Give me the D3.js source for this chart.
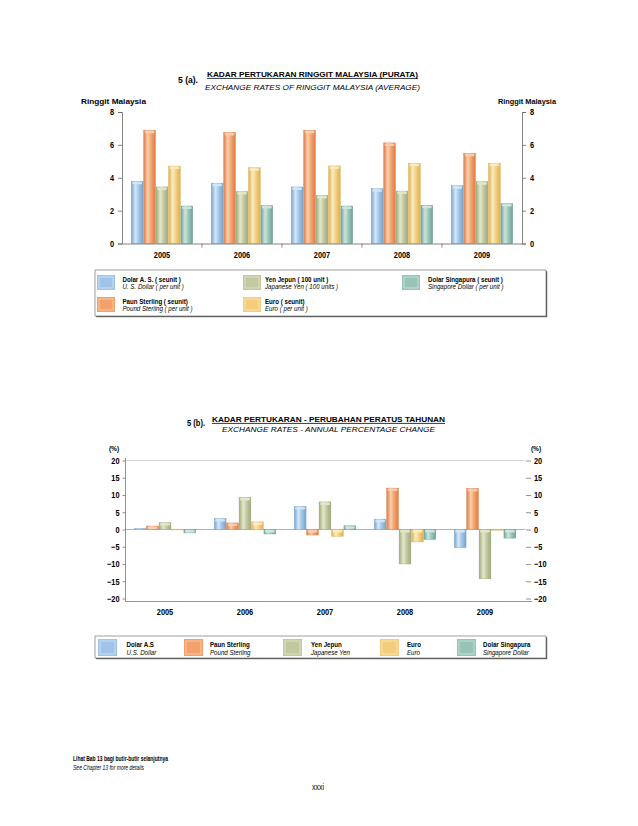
<!DOCTYPE html>
<html><head><meta charset="utf-8">
<script src="https://cdn.jsdelivr.net/npm/d3@7"></script>
<style>
html,body{margin:0;padding:0;background:#fff;}
svg{display:block;font-family:"Liberation Sans",Arial,sans-serif;}
</style></head><body>
<svg id="c" width="638" height="826"></svg>
<script>
const years = ["2005","2006","2007","2008","2009"];
const seriesKeys = ["usd","gbp","jpy","eur","sgd"];
// Chart 5(a): average exchange rates (RM)
const rateUSD = [3.79, 3.67, 3.44, 3.33, 3.52];
const rateGBP = [6.89, 6.76, 6.89, 6.12, 5.49];
const rateJPY = [3.44, 3.16, 2.92, 3.19, 3.76];
const rateEUR = [4.71, 4.61, 4.72, 4.88, 4.89];
const rateSGD = [2.28, 2.31, 2.28, 2.33, 2.43];
const rateTicks = [0, 2, 4, 6, 8];
// Chart 5(b): annual percentage change
const chgUSD = [0.3, 3.2, 6.7, 3.0, -5.3];
const chgGBP = [1.0, 1.9, -1.6, 12.0, 11.9];
const chgJPY = [2.0, 9.3, 8.0, -10.0, -14.3];
const chgEUR = [0.1, 2.2, -2.0, -3.6, -0.2];
const chgSGD = [-1.0, -1.3, 1.1, -2.9, -2.5];
const chgTicks = [20, 15, 10, 5, 0, -5, -10, -15, -20];

const legendA = [
  ["Dolar A. S. ( seunit )", "U. S. Dollar ( per unit )", "usd"],
  ["Yen Jepun ( 100 unit )", "Japanese Yen (  100 units )", "jpy"],
  ["Dolar Singapura ( seunit )", "Singapore Dollar (  per unit )", "sgd"],
  ["Paun Sterling ( seunit)", "Pound Sterling ( per unit )", "gbp"],
  ["Euro ( seunit)", "Euro ( per unit )", "eur"]
];
const legendB = [
  ["Dolar A.S", "U.S. Dollar", "usd"],
  ["Paun Sterling", "Pound Sterling", "gbp"],
  ["Yen Jepun", "Japanese Yen", "jpy"],
  ["Euro", "Euro", "eur"],
  ["Dolar Singapura", "Singapore Dollar", "sgd"]
];

const colors = {
  usd: {base:"#9fc4e8", dark:"#7aa3cc", light:"#d3e7f8"},
  gbp: {base:"#f3a06a", dark:"#dd7c45", light:"#f9d0b0"},
  jpy: {base:"#c2c8a0", dark:"#9fa77d", light:"#e4e8cb"},
  eur: {base:"#f4cd7c", dark:"#dcaf55", light:"#fbecbd"},
  sgd: {base:"#98c4b8", dark:"#70a294", light:"#cfe6df"}
};

const svg = d3.select("#c");
const defs = svg.append("defs");
seriesKeys.forEach(k => {
  const c = colors[k];
  const g = defs.append("linearGradient").attr("id","g_"+k).attr("x1","0").attr("x2","1").attr("y1","0").attr("y2","0");
  g.append("stop").attr("offset","0%").attr("stop-color",c.dark);
  g.append("stop").attr("offset","35%").attr("stop-color",c.light);
  g.append("stop").attr("offset","65%").attr("stop-color",c.base);
  g.append("stop").attr("offset","100%").attr("stop-color",c.dark);
});

const NARROW = 0.82;
function narrow(sel, f) {
  sel.each(function(){
    const w = this.getComputedTextLength();
    d3.select(this).attr("textLength", w*(f||NARROW)).attr("lengthAdjust","spacingAndGlyphs");
  });
}
function txt(x,y,s,opts={}) {
  const t = svg.append("text").attr("x",x).attr("y",y).text(s)
    .attr("font-size",opts.size||8).attr("fill","#000")
    .attr("text-anchor",opts.anchor||"start");
  if (opts.bold) t.attr("font-weight","bold");
  if (opts.italic) t.attr("font-style","italic");
  let w;
  if (opts.len) { w = opts.len; t.attr("textLength",w).attr("lengthAdjust","spacingAndGlyphs"); }
  else { w = t.node().getComputedTextLength()*NARROW; t.attr("textLength",w).attr("lengthAdjust","spacingAndGlyphs"); }
  if (opts.underline) {
    const x0 = opts.anchor==="middle" ? x-w/2 : (opts.anchor==="end" ? x-w : x);
    svg.append("line").attr("x1",x0).attr("x2",x0+w).attr("y1",y+1.4).attr("y2",y+1.4).attr("stroke","#000").attr("stroke-width",0.8);
  }
  return t;
}

function drawBar(g, x, w, y0, y1, key) {
  const top = Math.min(y0,y1), h = Math.max(0.8, Math.abs(y1-y0));
  g.append("rect").attr("x",x).attr("y",top).attr("width",w).attr("height",h)
    .attr("fill","url(#g_"+key+")").attr("stroke",colors[key].dark).attr("stroke-width",0.4);
  if (h > 3) {
    g.append("rect").attr("x",x+1).attr("y",top+0.5).attr("width",w-2).attr("height",Math.min(2.5,h-1))
      .attr("rx",1.2).attr("fill",colors[key].light).attr("opacity",0.95);
  }
}
function styleAxis(a, col){
  a.selectAll("path").attr("stroke",col).attr("stroke-width",0.8);
  a.selectAll("line").attr("stroke",col).attr("stroke-width",0.8);
  a.selectAll("text").attr("font-size",9).attr("font-weight","bold").attr("font-family",null).attr("fill","#000");
  narrow(a.selectAll("text"));
}

// ===== Chart A =====
txt(198,83,"5 (a).",{bold:true,anchor:"end",size:8.5,len:20});
txt(207,77,"KADAR  PERTUKARAN  RINGGIT  MALAYSIA  (PURATA)",{bold:true,underline:true,len:211});
txt(205,90,"EXCHANGE  RATES  OF  RINGGIT  MALAYSIA  (AVERAGE)",{italic:true,len:215});
txt(81,104,"Ringgit Malaysia",{bold:true,size:7.5,len:65});
txt(556,104,"Ringgit Malaysia",{bold:true,size:7.5,anchor:"end",len:58});

const ya = d3.scaleLinear().domain([0,8]).range([243.5,112]);
const xa0 = d3.scaleBand().domain(years).range([122,522]);
const xa1 = d3.scaleBand().domain(seriesKeys).range([0,xa0.bandwidth()]).paddingOuter(0.72);
const gA = svg.append("g");
const dataA = {usd:rateUSD,gbp:rateGBP,jpy:rateJPY,eur:rateEUR,sgd:rateSGD};
years.forEach((yr,i) => {
  seriesKeys.forEach(k => {
    drawBar(gA, xa0(yr)+xa1(k)+0.3, xa1.bandwidth()-0.6, ya(0), ya(dataA[k][i]), k);
  });
});
const axLA = svg.append("g").attr("transform","translate(122,0)")
  .call(d3.axisLeft(ya).tickValues(rateTicks).tickSize(4).tickPadding(4));
const axRA = svg.append("g").attr("transform","translate(522,0)")
  .call(d3.axisRight(ya).tickValues(rateTicks).tickSize(4).tickPadding(4));
const axBA = svg.append("g").attr("transform","translate(0,243.5)")
  .call(d3.axisBottom(xa0).tickSize(0).tickPadding(8));
svg.append("g").selectAll("line").data(years.slice(1)).join("line")
  .attr("x1",d=>xa0(d)).attr("x2",d=>xa0(d)).attr("y1",243.5).attr("y2",247.5)
  .attr("stroke","#666").attr("stroke-width",0.8);
[axLA,axRA,axBA].forEach(a=>styleAxis(a,"#666"));

// Legend A
function legendBox(x,y,w,h){
  svg.append("rect").attr("x",x+1.2).attr("y",y+1.2).attr("width",w).attr("height",h).attr("fill","#555");
  svg.append("rect").attr("x",x).attr("y",y).attr("width",w).attr("height",h).attr("fill","#fff").attr("stroke","#777").attr("stroke-width",0.7);
}
function swatch(x,y,w,h,k){
  svg.append("rect").attr("x",x).attr("y",y).attr("width",w).attr("height",h).attr("fill",colors[k].base);
  svg.append("rect").attr("x",x+2).attr("y",y+2).attr("width",w-4).attr("height",h-4)
    .attr("fill","none").attr("stroke",colors[k].light).attr("stroke-width",0.9).attr("opacity",0.9);
}
legendBox(95,270,451,46);
const legAPos = [[97,275,122.5],[243,275,265],[402,275,428],[97,297,122.5],[243,297,265]];
legendA.forEach((d,i)=>{
  const [sx,sy,tx] = legAPos[i];
  swatch(sx,sy,18,15,d[2]);
  txt(tx,sy+6.5,d[0],{bold:true,size:7.5});
  txt(tx,sy+14,d[1],{italic:true,size:7.5});
});

// ===== Chart B =====
txt(205,425.5,"5 (b).",{bold:true,anchor:"end",size:8.5,len:18});
txt(212,422,"KADAR  PERTUKARAN  -  PERUBAHAN  PERATUS  TAHUNAN",{bold:true,underline:true,len:233});
txt(222,431.5,"EXCHANGE  RATES  -  ANNUAL  PERCENTAGE  CHANGE",{italic:true,len:213});
txt(114,451,"(%)",{bold:true,size:8,anchor:"middle"});
txt(536,451,"(%)",{bold:true,size:8,anchor:"middle"});

const yb = d3.scaleLinear().domain([-20,20]).range([598.5,460.5]);
const xb0 = d3.scaleBand().domain(years).range([125,525]);
const xb1 = d3.scaleBand().domain(seriesKeys).range([0,xb0.bandwidth()]).paddingOuter(0.72);
svg.append("line").attr("x1",125).attr("x2",525).attr("y1",yb(20)).attr("y2",yb(20)).attr("stroke","#c8c8c8").attr("stroke-width",0.8);
svg.append("line").attr("x1",125).attr("x2",525).attr("y1",yb(0)).attr("y2",yb(0)).attr("stroke","#aaa").attr("stroke-width",0.9);
const gB = svg.append("g");
const dataB = {usd:chgUSD,gbp:chgGBP,jpy:chgJPY,eur:chgEUR,sgd:chgSGD};
years.forEach((yr,i) => {
  seriesKeys.forEach(k => {
    drawBar(gB, xb0(yr)+xb1(k)+0.3, xb1.bandwidth()-0.6, yb(0), yb(dataB[k][i]), k);
  });
});
const axLB = svg.append("g").attr("transform","translate(125.5,0)")
  .call(d3.axisLeft(yb).tickValues(chgTicks).tickSize(3).tickPadding(3).tickSizeOuter(0));
const axRB = svg.append("g").attr("transform","translate(526,0)")
  .call(d3.axisRight(yb).tickValues(chgTicks).tickSize(5).tickPadding(3).tickSizeOuter(0));
axRB.select("path").remove();
axLB.select("path").attr("d","M0,458V601.5");
svg.append("line").attr("x1",125.5).attr("x2",532).attr("y1",601.5).attr("y2",601.5).attr("stroke","#777").attr("stroke-width",0.8);
const axBB = svg.append("g").attr("transform","translate(0,601.5)")
  .call(d3.axisBottom(xb0).tickSize(0).tickPadding(7));
axBB.select("path").remove();
[axLB,axRB,axBB].forEach(a=>styleAxis(a,"#777"));

// Legend B
legendBox(95,636,451,22);
const legBPos = [[98,126.5],[184,210],[283,311],[380,407],[457,483]];
legendB.forEach((d,i)=>{
  const [sx,tx] = legBPos[i];
  swatch(sx,639,19,17,d[2]);
  txt(tx,646.5,d[0],{bold:true,size:7.5});
  txt(tx,654.5,d[1],{italic:true,size:7.5});
});

// Footer
txt(73,761,"Lihat Bab 13 bagi butir-butir selanjutnya",{bold:true,size:7.5,len:95});
txt(73,770,"See Chapter 13 for more details",{italic:true,size:7.5,len:71});
txt(318,790,"xxxi",{size:8.5,anchor:"middle"});
</script>
</body></html>
